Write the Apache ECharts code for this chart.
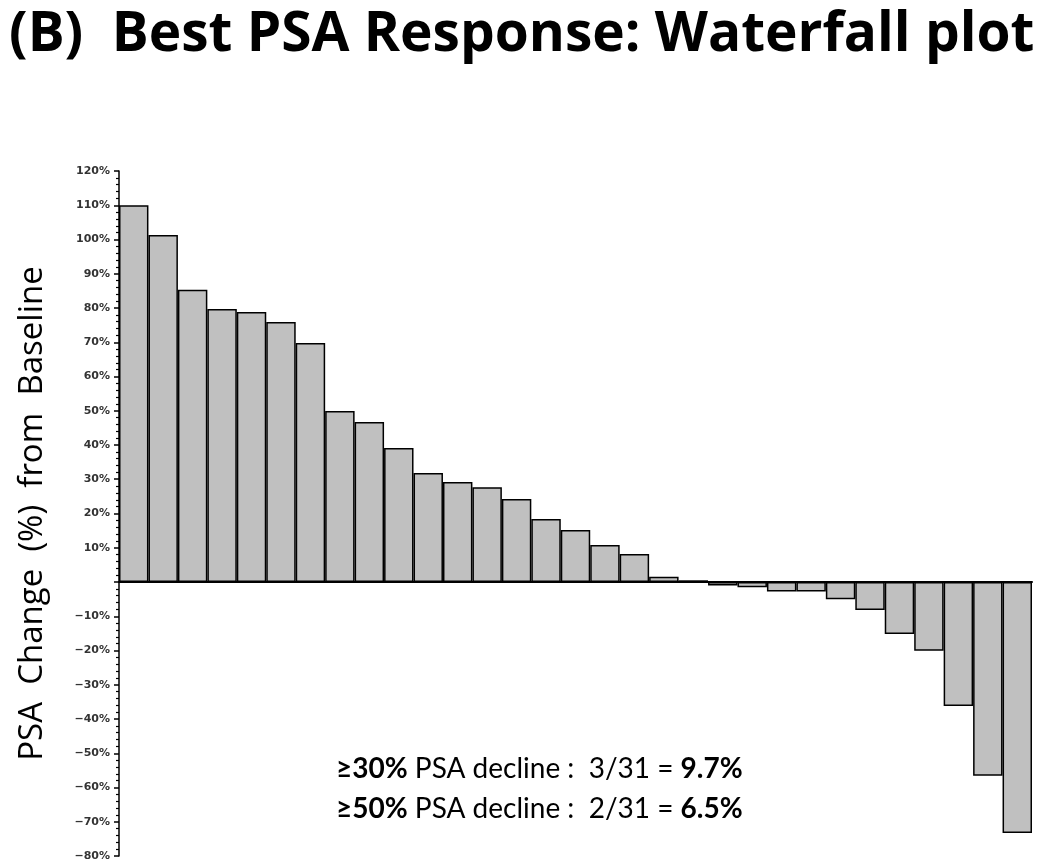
<!DOCTYPE html>
<html>
<head>
<meta charset="utf-8">
<script src="https://cdn.jsdelivr.net/npm/echarts@6/dist/echarts.min.js"></script>
<style>
html,body{margin:0;padding:0;background:#fff;}
#chart{width:1050px;height:864px;}
</style>
</head>
<body>
<div id="chart"></div>
<script>
// Data
const patients = Array.from({length: 31}, (_, i) => 'P' + (i + 1));
const psaChange = [110, 101.3, 85.3, 79.7, 78.8, 75.9, 69.8, 49.9, 46.7, 39.1,
                   31.8, 29.2, 27.7, 24.2, 18.4, 15.2, 10.8, 8.2, 1.5, 0.5,
                   -1.0, -1.5, -2.8, -2.8, -5.0, -8.2, -15.2, -20.1, -36.2, -56.6, -73.3];
const yMin = -80, yMax = 120, yStep = 10;
const titleText = '(B)  Best PSA Response: Waterfall plot';
const yName = 'PSA  Change  (%)  from  Baseline';

const chart = echarts.init(document.getElementById('chart'));
chart.setOption({
  animation: false,
  backgroundColor: '#fff',
  title: {
    text: titleText,
    left: 4, top: 3,
    textStyle: {fontFamily: 'Open Sans', fontWeight: 'bold', fontSize: 55, color: '#000'}
  },
  grid: {left: 119, right: 18, top: 171, bottom: 8, containLabel: false},
  xAxis: {
    type: 'category',
    data: patients,
    axisLine: {onZero: true, lineStyle: {color: '#000', width: 2}},
    axisTick: {show: false},
    axisLabel: {show: false},
    splitLine: {show: false}
  },
  yAxis: {
    type: 'value',
    min: yMin, max: yMax, interval: yStep,
    name: yName,
    nameLocation: 'middle',
    nameGap: 70,
    nameTextStyle: {fontFamily: 'Open Sans', fontSize: 33, color: '#000'},
    axisLine: {show: true, lineStyle: {color: '#000', width: 1.5}},
    axisTick: {show: true, length: 5, lineStyle: {color: '#000', width: 1.5}},
    minorTick: {show: true, splitNumber: 5, length: 3, lineStyle: {color: '#000', width: 1.2}},
    splitLine: {show: false},
    axisLabel: {
      margin: 9,
      fontFamily: 'DejaVu Sans', fontWeight: 'bold', fontSize: 11, color: '#333',
      formatter: v => v === 0 ? '' : (v < 0 ? '\u2212' + Math.abs(v) + '%' : v + '%')
    }
  },
  series: [{
    type: 'bar',
    data: psaChange,
    barCategoryGap: '0%',
    itemStyle: {color: '#c0c0c0', borderColor: '#000', borderWidth: 1.5}
  }],
  graphic: [
    {
      type: 'text', left: 336, top: 755,
      style: {
        text: '{b|\u226530%} PSA decline :  3/31 = {b|9.7%}',
        font: '28px Lato', fill: '#000',
        rich: {b: {fontFamily: 'Lato', fontWeight: 'bold', fontSize: 28, fill: '#000'}}
      }
    },
    {
      type: 'text', left: 336, top: 795,
      style: {
        text: '{b|\u226550%} PSA decline :  2/31 = {b|6.5%}',
        font: '28px Lato', fill: '#000',
        rich: {b: {fontFamily: 'Lato', fontWeight: 'bold', fontSize: 28, fill: '#000'}}
      }
    }
  ]
});
</script>
</body>
</html>
